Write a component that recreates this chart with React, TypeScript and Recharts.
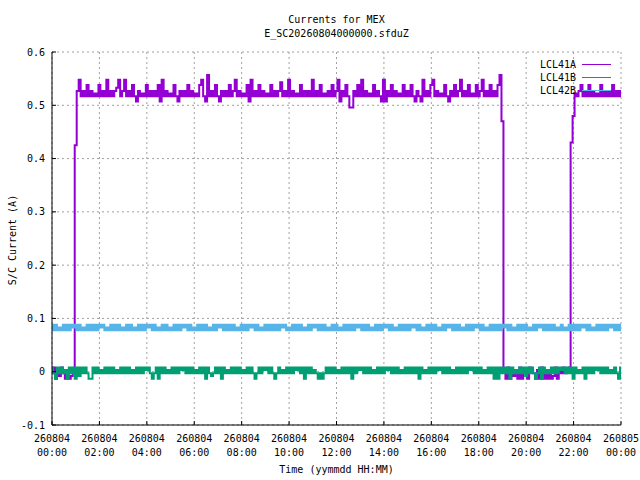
import React from 'react';
import { LineChart, Line, XAxis, YAxis, CartesianGrid, Legend } from 'recharts';

// samples every 5 minutes, 260804 00:00 -> 260805 00:00, values in mA
const SAMPLE_MIN = 5;

const LCL41A_MA = [
  -3, 8, -13, 3, -8, 8, -3, -13, 3, -13,
  -8, 3, 425, 527, 548, 517, 527, 517, 538, 517,
  527, 517, 522, 517, 538, 517, 527, 517, 548, 517,
  527, 517, 527, 533, 548, 517, 527, 548, 517, 527,
  517, 538, 517, 507, 527, 517, 522, 517, 538, 517,
  527, 517, 527, 517, 538, 507, 548, 517, 527, 517,
  522, 517, 538, 517, 507, 527, 517, 527, 517, 538,
  517, 527, 517, 522, 517, 538, 548, 517, 507, 557,
  517, 527, 517, 538, 517, 507, 527, 517, 527, 517,
  538, 517, 527, 548, 517, 527, 517, 522, 517, 538,
  507, 548, 517, 527, 517, 538, 517, 527, 517, 522,
  517, 538, 517, 527, 517, 527, 543, 517, 527, 517,
  548, 517, 527, 517, 522, 517, 538, 517, 527, 517,
  527, 517, 548, 517, 527, 517, 538, 517, 522, 517,
  527, 517, 538, 517, 527, 548, 507, 527, 517, 538,
  517, 496, 496, 527, 517, 538, 517, 548, 517, 527,
  517, 522, 517, 538, 517, 527, 517, 507, 548, 507,
  527, 517, 538, 517, 527, 517, 522, 517, 538, 517,
  527, 517, 538, 517, 507, 527, 517, 507, 548, 517,
  527, 517, 538, 548, 517, 527, 517, 522, 517, 538,
  517, 507, 527, 517, 538, 517, 527, 548, 517, 527,
  517, 538, 517, 522, 517, 538, 517, 527, 548, 517,
  527, 517, 538, 517, 527, 517, 538, 557, 470,
  3, -13, 8, -13, 3, -8, -3, -13, 8, -13, 3,
  -3, -13, 8, 3, -3, -13, 3, -13, 8, -13,
  3, -13, -3, -13, -8, 8, -13, 3, -3, 8,
  -3, 3, 8, 430, 480, 522,
  517, 527, 538, 517, 527, 517, 538, 517, 527, 517,
  522, 517, 538, 517, 527, 517, 527, 517, 538, 517, 527, 517, 527,
];

const LCL41B_MA = [
  8, -3, -13, 8, -3, 8, -3, 3, -13, 8,
  -3, 8, -13, 8, -8, 8, -3, 8, -3, -13,
  -13, 8, -3, 8, -3, 3, -3, 8, -3, 8,
  -3, 8, -3, 3, -3, 8, -3, 8, -3, 8,
  -3, 3, -3, 8, -3, 8, -3, 8, 3, 8,
  -3, -13, -3, 8, -13, 8, -3, 8, -3, 3,
  -3, 8, -3, 8, -3, 8, 3, 8, -3, 8,
  -3, 8, -3, 3, -3, 8, -3, 8, -13, 8,
  -3, -8, -3, 8, -3, 8, -13, 8, -3, 3,
  -3, 8, -3, 8, -3, 8, -3, 3, -3, 8,
  -3, 8, -3, -13, -3, 8, -3, 8, 3, 8,
  -3, 8, -3, -13, -3, 8, -3, 3, -3, 8,
  -3, 8, -3, 8, 3, 8, -3, 8, -13, 8,
  -3, 8, -3, 3, -3, -13, -3, -13, -3, 8,
  -3, 8, -3, 8, -3, 3, -3, 8, -3, 8,
  -3, 8, -13, 8, -3, 8, 3, 8, -3, 8,
  -3, 8, -3, 3, -3, 8, -3, 8, -3, 8,
  3, 8, -3, 8, -3, 8, -3, 3, -3, 8,
  -3, 8, -3, 8, -3, 8, -13, 8, -3, 3,
  -3, 8, -3, 8, -3, 8, 3, 8, -3, 8,
  -3, 8, -3, 3, -3, 8, -3, 8, -3, 8,
  -3, 8, 3, 8, -3, 8, -3, 8, -3, 3,
  -3, 8, -3, 8, -13, 8, -13, 8, -3, 8,
  -3, 8, -13, 8, -3, 3, -3, 8, -3, 8,
  -8, 8, -3, 8, -3, -13, -3, 8, -13, 8,
  -3, 3, -3, 8, -3, 8, -3, 8, 3, 8,
  -3, 8, -3, 8, -13, 8, -3, 3, -3, 8,
  -13, 8, -3, 8, -3, 8, 3, 8, -3, 8,
  -3, 8, -3, 3, -3, 8, -3, -13, 8,
];

const LCL42B_MA = [
  88, 78, 88, 78, 83, 78, 88, 78, 88, 78,
  88, 83, 88, 78, 88, 78, 83, 78, 88, 78,
  88, 78, 88, 78, 88, 83, 88, 78, 83, 78,
  88, 78, 88, 78, 88, 78, 83, 78, 88, 78,
  88, 78, 83, 78, 88, 78, 88, 78, 88, 83,
  88, 78, 88, 78, 83, 78, 88, 78, 88, 78,
  83, 78, 88, 78, 88, 78, 88, 83, 88, 78,
  88, 78, 83, 78, 88, 78, 88, 78, 88, 78,
  83, 78, 88, 78, 88, 83, 88, 78, 88, 78,
  88, 78, 88, 78, 83, 78, 88, 78, 88, 78,
  88, 83, 88, 78, 88, 78, 83, 78, 88, 78,
  88, 78, 88, 78, 88, 78, 88, 83, 88, 78,
  83, 78, 88, 78, 88, 78, 88, 78, 83, 78,
  88, 78, 88, 83, 88, 78, 88, 78, 88, 78,
  83, 78, 88, 78, 88, 78, 83, 78, 88, 78,
  88, 78, 88, 78, 88, 83, 88, 78, 88, 78,
  88, 78, 83, 78, 88, 78, 88, 78, 88, 83,
  88, 78, 88, 78, 83, 78, 88, 78, 88, 78,
  88, 78, 88, 83, 88, 78, 88, 78, 83, 78,
  88, 78, 88, 78, 88, 78, 83, 78, 88, 78,
  88, 83, 88, 78, 88, 78, 88, 78, 83, 78,
  88, 78, 88, 78, 88, 83, 88, 78, 88, 78,
  83, 78, 88, 78, 88, 78, 88, 78, 88, 83,
  88, 78, 88, 78, 83, 78, 88, 78, 88, 78,
  88, 78, 83, 78, 88, 78, 88, 83, 88, 78,
  88, 78, 88, 78, 88, 78, 83, 78, 88, 78,
  83, 78, 88, 78, 88, 78, 88, 78, 88, 83,
  88, 78, 88, 78, 83, 78, 88, 78, 88, 78,
  88, 78, 88, 83, 88, 78, 88, 78, 88,
];

const X_TICKS = [0, 120, 240, 360, 480, 600, 720, 840, 960, 1080, 1200, 1320, 1440];
const X_DATES = ['260804', '260804', '260804', '260804', '260804', '260804', '260804',
  '260804', '260804', '260804', '260804', '260804', '260805'];
const X_TIMES = ['00:00', '02:00', '04:00', '06:00', '08:00', '10:00', '12:00',
  '14:00', '16:00', '18:00', '20:00', '22:00', '00:00'];
const Y_TICKS = [-0.1, 0, 0.1, 0.2, 0.3, 0.4, 0.5, 0.6];

const FONT = "'DejaVu Sans Mono', monospace";

const data = LCL41A_MA.map((v, i) => ({
  t: i * SAMPLE_MIN,
  lcl41a: v / 1000,
  lcl41b: LCL41B_MA[i] / 1000,
  lcl42b: LCL42B_MA[i] / 1000,
}));

const TimeTick = (props: any) => {
  const { x, y, payload } = props;
  const i = X_TICKS.indexOf(payload.value);
  return (
    <text x={x} y={y} textAnchor="middle" fontSize={10} fontFamily={FONT} fill="#000">
      <tspan x={x} dy={21}>{X_DATES[i]}</tspan>
      <tspan x={x} dy={14}>{X_TIMES[i]}</tspan>
    </text>
  );
};

const renderLegend = (props: any) => {
  const { payload } = props;
  return (
    <div style={{ fontFamily: FONT, fontSize: 10 }}>
      {payload.map((entry: any) => (
        <div key={entry.value} style={{ display: 'flex', alignItems: 'center', height: 13, justifyContent: 'flex-end' }}>
          <span style={{ marginRight: 6 }}>{entry.value}</span>
          <span style={{ display: 'inline-block', width: 29, height: 1, background: entry.color }} />
        </div>
      ))}
    </div>
  );
};

export default function App() {
  return (
    <div style={{ position: 'absolute', left: 0, top: 0, width: 640, height: 480, background: '#fff', fontFamily: FONT }}>
      <div style={{ position: 'absolute', left: 0, width: 673, top: 14, textAlign: 'center', fontSize: 10, lineHeight: '12px' }}>
        Currents for MEX
      </div>
      <div style={{ position: 'absolute', left: 0, width: 673, top: 28, textAlign: 'center', fontSize: 10, lineHeight: '12px' }}>
        E_SC20260804000000.sfduZ
      </div>
      <div style={{ position: 'absolute', left: 0, width: 673, top: 464, textAlign: 'center', fontSize: 10, lineHeight: '12px' }}>
        Time (yymmdd HH:MM)
      </div>
      <div style={{ position: 'absolute', left: 13, top: 240, width: 0, height: 0 }}>
        <div style={{ position: 'absolute', left: -60, top: -6, width: 120, textAlign: 'center', fontSize: 10, lineHeight: '12px', transform: 'rotate(-90deg)' }}>
          S/C Current (A)
        </div>
      </div>
      <LineChart width={640} height={480} data={data} margin={{ top: 52, right: 19, bottom: 0, left: 0 }}>
        <CartesianGrid stroke="#a0a0a0" strokeDasharray="2 3" />
        <XAxis
          dataKey="t"
          type="number"
          domain={[0, 1440]}
          ticks={X_TICKS}
          allowDataOverflow
          height={55}
          stroke="#000"
          tickSize={-4}
          tickMargin={0}
          tick={<TimeTick />}
          interval={0}
        />
        <XAxis
          xAxisId="top"
          orientation="top"
          type="number"
          domain={[0, 1440]}
          ticks={X_TICKS}
          allowDataOverflow
          height={0}
          stroke="#000"
          tickSize={-4}
          tick={false}
        />
        <YAxis
          type="number"
          domain={[-0.1, 0.6]}
          ticks={Y_TICKS}
          allowDataOverflow
          width={52}
          stroke="#000"
          tickSize={-4}
          tickMargin={11}
          interval={0}
          tick={{ fontSize: 10, fontFamily: FONT, fill: '#000' }}
        />
        <YAxis
          yAxisId="right"
          orientation="right"
          type="number"
          domain={[-0.1, 0.6]}
          ticks={Y_TICKS}
          allowDataOverflow
          width={0}
          stroke="#000"
          tickSize={-4}
          tick={false}
        />
        <Legend
          content={renderLegend}
          layout="horizontal"
          verticalAlign="middle"
          align="center"
          wrapperStyle={{ top: 58, left: 480, width: 131, bottom: 'auto' }}
        />
        <Line type="step" dataKey="lcl41a" name="LCL41A" stroke="#9400D3" strokeWidth={2} dot={false} isAnimationActive={false} />
        <Line type="step" dataKey="lcl41b" name="LCL41B" stroke="#009E73" strokeWidth={2} dot={false} isAnimationActive={false} />
        <Line type="step" dataKey="lcl42b" name="LCL42B" stroke="#56B4E9" strokeWidth={2} dot={false} isAnimationActive={false} />
      </LineChart>
    </div>
  );
}
